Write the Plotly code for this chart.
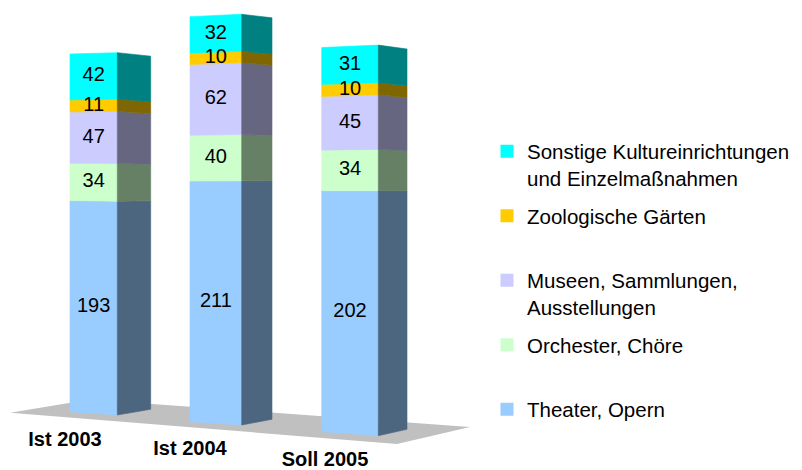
import plotly.graph_objects as go

# ---------------- data ----------------
categories = ["Ist 2003", "Ist 2004", "Soll 2005"]
series_names = [
    "Theater, Opern",
    "Orchester, Chöre",
    "Museen, Sammlungen,<br>Ausstellungen",
    "Zoologische Gärten",
    "Sonstige Kultureinrichtungen<br>und Einzelmaßnahmen",
]
theater = [193, 211, 202]
orchester = [34, 40, 34]
museen = [47, 62, 45]
zoo = [11, 10, 10]
sonstige = [42, 32, 31]
series_values = [theater, orchester, museen, zoo, sonstige]

# ---------------- style ----------------
front_colors = ["#99CCFF", "#CCFFCC", "#CCCCFF", "#FFCC00", "#00FFFF"]
side_colors = ["#4C6680", "#668066", "#666680", "#806600", "#008080"]
floor_color = "#C0C0C0"
FONT = "Arial, Liberation Sans, sans-serif"

W, H = 802, 470

# perspective geometry of the 3D view: for each bar, three vertical edges
# (front-left, front-right, back-right) given as (x, y of value 0, pixels per unit)
edges = [
    [(70.0, 411.7, 1.094), (117.3, 415.0, 1.108), (150.7, 409.3, 1.080)],
    [(190.0, 421.7, 1.141), (241.7, 425.0, 1.157), (272.0, 419.3, 1.131)],
    [(321.7, 431.7, 1.193), (378.3, 435.7, 1.213), (407.0, 429.3, 1.181)],
]
floor_corners = [(10, 412.7), (90, 399.5), (470, 427.0), (397, 444.0)]
cat_label_pos = [(65, 441), (190, 450), (325, 461)]


def proj(edge, v):
    x, y0, s = edge
    return x, y0 - s * v


fig = go.Figure()

# floor
fx = [p[0] for p in floor_corners] + [floor_corners[0][0]]
fy = [p[1] for p in floor_corners] + [floor_corners[0][1]]
fig.add_trace(go.Scatter(x=fx, y=fy, mode="lines", fill="toself",
                         fillcolor=floor_color, line=dict(width=0, color=floor_color),
                         showlegend=False, hoverinfo="skip"))

# stacked 3D columns
bottoms = [0.0] * len(categories)
lab_x, lab_y, lab_t = [], [], []
for si, vals in enumerate(series_values):
    front_x, front_y, side_x, side_y = [], [], [], []
    for ci, v in enumerate(vals):
        b, t = bottoms[ci], bottoms[ci] + v
        fl, fr, br = edges[ci]
        p1, p2 = proj(fl, b), proj(fr, b)
        p3, p4 = proj(fr, t), proj(fl, t)
        for p in (p1, p2, p3, p4, p1):
            front_x.append(p[0]); front_y.append(p[1])
        front_x.append(None); front_y.append(None)
        q1, q2 = proj(fr, b), proj(br, b)
        q3, q4 = proj(br, t), proj(fr, t)
        for q in (q1, q2, q3, q4, q1):
            side_x.append(q[0]); side_y.append(q[1])
        side_x.append(None); side_y.append(None)
        mid = (b + t) / 2
        a, c = proj(fl, mid), proj(fr, mid)
        lab_x.append((a[0] + c[0]) / 2)
        lab_y.append((a[1] + c[1]) / 2)
        lab_t.append(str(v))
        bottoms[ci] = t
    fig.add_trace(go.Scatter(x=front_x, y=front_y, mode="lines", fill="toself",
                             fillcolor=front_colors[si],
                             line=dict(width=0.6, color=front_colors[si]),
                             showlegend=False, hoverinfo="skip"))
    fig.add_trace(go.Scatter(x=side_x, y=side_y, mode="lines", fill="toself",
                             fillcolor=side_colors[si],
                             line=dict(width=0.6, color=side_colors[si]),
                             showlegend=False, hoverinfo="skip"))

# value labels
fig.add_trace(go.Scatter(x=lab_x, y=lab_y, text=lab_t, mode="text",
                         textfont=dict(family=FONT, size=20, color="black"),
                         showlegend=False, hoverinfo="skip"))

# category labels
fig.add_trace(go.Scatter(x=[p[0] for p in cat_label_pos], y=[p[1] for p in cat_label_pos],
                         text=categories, mode="text",
                         textfont=dict(family=FONT, size=20, color="black", weight="bold"),
                         showlegend=False, hoverinfo="skip"))

# legend entries (top to bottom)
for si in reversed(range(len(series_names))):
    name = series_names[si]
    if "<br>" not in name:
        name = name + "<br> "
    fig.add_trace(go.Scatter(x=[None], y=[None], mode="markers", name=name,
                             marker=dict(symbol="square", size=13, color=front_colors[si]),
                             legendgroup=f"g{si}", hoverinfo="skip"))

fig.update_layout(
    width=W, height=H,
    margin=dict(l=0, r=0, t=0, b=0),
    paper_bgcolor="white", plot_bgcolor="white",
    hovermode=False,
    xaxis=dict(range=[0, W], visible=False, fixedrange=True),
    yaxis=dict(range=[H, 0], visible=False, fixedrange=True),
    legend=dict(x=487 / W, y=1 - 131.5 / H, xanchor="left", yanchor="top",
                font=dict(family=FONT, size=20.5, color="black"),
                valign="top", tracegroupgap=8.2, bgcolor="rgba(0,0,0,0)"),
)

fig.write_html("out.html", config={"displayModeBar": False},
               post_script="document.body.style.margin='0';document.body.style.overflow='hidden';")
